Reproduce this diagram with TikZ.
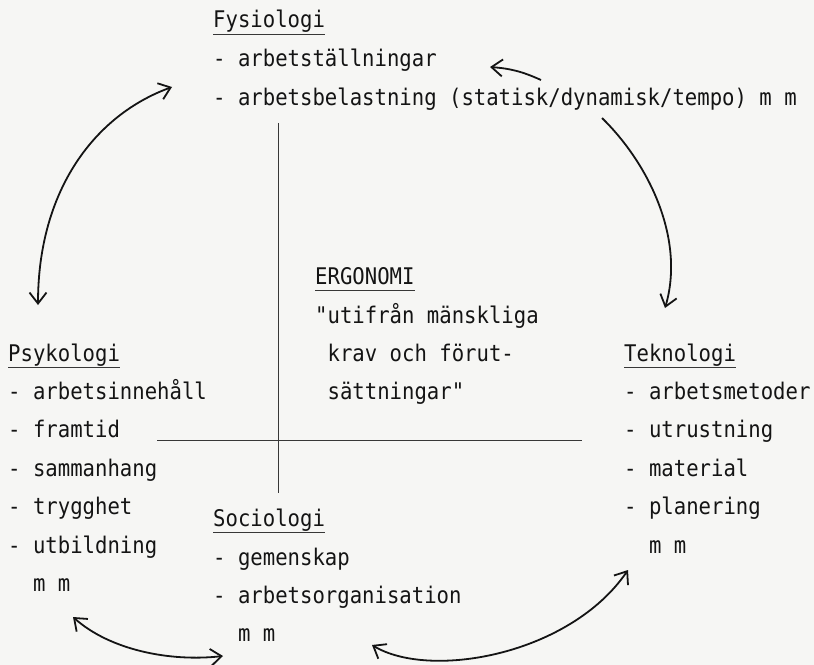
\documentclass[tikz,border=0pt]{standalone}
\usepackage{fontspec}
\newfontfamily\typer[FakeStretch=0.9]{DejaVu Sans Mono}
\usepackage{tikz}
\usetikzlibrary{arrows.meta, positioning}
\definecolor{paper}{HTML}{F6F6F4}
\definecolor{ink}{HTML}{141414}

\begin{document}
\begin{tikzpicture}[x=1bp, y=-1bp,
  txt/.style={inner sep=0pt, anchor=base west, text=ink,
    font=\typer\fontsize{23}{26}\selectfont},
  head/.style={txt},
  uline/.style={line width=1.1bp, ink!85},
  axis/.style={line width=1bp, ink!85},
  link/.style={line width=1.8bp, ink,
    {Straight Barb[length=11bp,width=17bp]}-{Straight Barb[length=11bp,width=17bp]}},
  linkone/.style={line width=1.8bp, ink, -{Straight Barb[length=11bp,width=17bp]}},
]
  \fill[paper] (0,0) rectangle (814,665);
  \useasboundingbox (0,0) rectangle (814,665);

  % Fysiologi
  \node[head] (fys) at (213,28) {Fysiologi};
  \node[txt] (fys1) at (213,67) {- arbetställningar};
  \node[txt] (fys2) at (213,106) {- arbetsbelastning (statisk/dynamisk/tempo) m m};

  % Ergonomi
  \node[head] (ergo) at (315,284) {ERGONOMI};
  \node[txt] (ergo1) at (315,323) {"utifrån mänskliga};
  \node[txt] (ergo2) at (315,361) {\phantom{"}krav och förut-};
  \node[txt] (ergo3) at (315,399) {\phantom{"}sättningar"};

  % Psykologi
  \node[head] (psy) at (8,361) {Psykologi};
  \foreach \t [count=\i] in {arbetsinnehåll,framtid,sammanhang,trygghet,utbildning}
    \node[txt] (psy\i) at (8,361+38.4*\i) {- \t};
  \node[txt] (psymm) at (8,361+38.4*6) {\phantom{- }m m};

  % Teknologi
  \node[head] (tek) at (624,361) {Teknologi};
  \foreach \t [count=\i] in {arbetsmetoder,utrustning,material,planering}
    \node[txt] (tek\i) at (624,361+38.4*\i) {- \t};
  \node[txt] (tekmm) at (624,361+38.4*5) {\phantom{- }m m};

  % Sociologi
  \node[head] (soc) at (213,526) {Sociologi};
  \node[txt] (soc1) at (213,565) {- gemenskap};
  \node[txt] (soc2) at (213,603) {- arbetsorganisation};
  \node[txt] (socmm) at (213,641) {\phantom{- }m m};

  \foreach \n in {fys,ergo,psy,tek,soc}
    \draw[uline] ([yshift=-6.5bp]\n.base west) -- ([yshift=-6.5bp]\n.base east);

  % cross
  \coordinate (vtop) at (278,123);
  \coordinate (vbot) at (278,493);
  \coordinate (hleft) at (157,440);
  \coordinate (hright) at (582,440);
  \draw[axis] (vtop) -- (vbot);
  \draw[axis] (hleft) -- (hright);

  % arrows
  \coordinate (psyin) at (38,305);
  \coordinate (fysin) at (172,87);
  \coordinate (fysout) at (602,118);
  \coordinate (tekin) at (665,308);
  \coordinate (belt) at (541,80);
  \coordinate (belh) at (490,67);
  \coordinate (psyout) at (73,617);
  \coordinate (socin) at (223,656);
  \coordinate (socout) at (372,645);
  \coordinate (tekout) at (628,570);

  \draw[link] (psyin) .. controls (38,190) and (95,115) .. (fysin);
  \draw[linkone] (fysout) .. controls (650,165) and (685,240) .. (tekin);
  \draw[linkone] (belt) to[bend right=10] (belh);
  \draw[link] (psyout) .. controls (110,650) and (170,662) .. (socin);
  \draw[link] (socout) .. controls (430,680) and (570,655) .. (tekout);
\end{tikzpicture}
\end{document}
